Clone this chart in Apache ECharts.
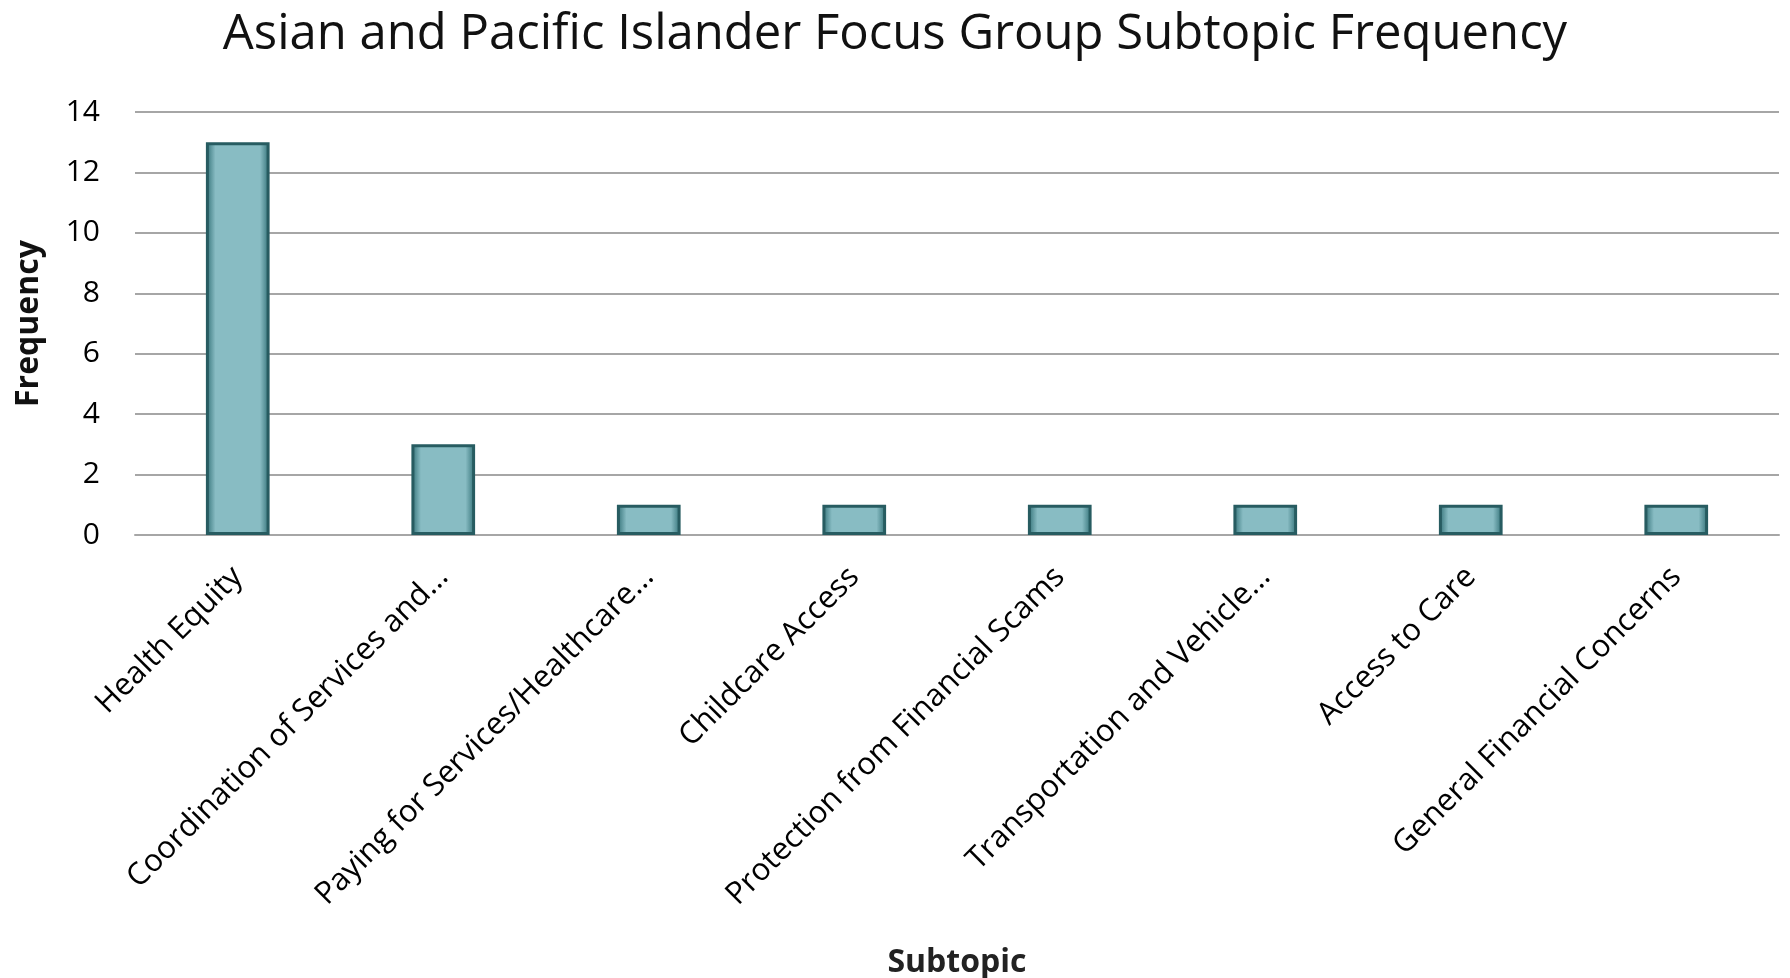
<!DOCTYPE html>
<html>
<head>
<meta charset="utf-8">
<script src="https://cdn.jsdelivr.net/npm/echarts@6/dist/echarts.min.js"></script>
<style>
  html, body { margin: 0; padding: 0; background: #fff; }
  #chart { width: 1790px; height: 978px; }
</style>
</head>
<body>
<div id="chart"></div>
<script>
const subtopics = [
  'Health Equity',
  'Coordination of Services and...',
  'Paying for Services/Healthcare...',
  'Childcare Access',
  'Protection from Financial Scams',
  'Transportation and Vehicle...',
  'Access to Care',
  'General Financial Concerns'
];
const frequency = [13, 3, 1, 1, 1, 1, 1, 1];
const yTicks = [0, 2, 4, 6, 8, 10, 12, 14];

const chart = echarts.init(document.getElementById('chart'));
const font = "'Open Sans', sans-serif";

chart.setOption({
  animation: false,
  title: {
    text: 'Asian and Pacific Islander Focus Group Subtopic Frequency',
    left: 'center',
    top: 6,
    textStyle: { fontFamily: font, fontSize: 49, fontWeight: 'normal', color: '#111' }
  },
  grid: { left: 135, right: 11, top: 112, bottom: 443, outerBoundsMode: 'none' },
  xAxis: {
    type: 'category',
    data: subtopics,
    name: 'Subtopic',
    nameLocation: 'middle',
    nameGap: 412,
    nameTextStyle: { fontFamily: font, fontSize: 32, fontWeight: 'bold', color: '#222' },
    axisLine: { lineStyle: { color: '#a6a6a6', width: 2 } },
    axisTick: { show: false },
    axisLabel: {
      rotate: 45,
      margin: 37,
      interval: 0,
      fontFamily: font,
      fontSize: 31,
      color: '#000'
    }
  },
  yAxis: {
    type: 'value',
    min: 0,
    max: yTicks[yTicks.length - 1],
    interval: 2,
    name: 'Frequency',
    nameLocation: 'middle',
    nameGap: 90,
    nameTextStyle: { fontFamily: font, fontSize: 32, fontWeight: 'bold', color: '#111' },
    axisLine: { show: false },
    axisTick: { show: false },
    axisLabel: { fontFamily: font, fontSize: 30, color: '#000', margin: 35 },
    splitLine: { lineStyle: { color: '#a6a6a6', width: 2 } }
  },
  series: [{
    type: 'bar',
    data: frequency,
    barWidth: '31%',
    itemStyle: {
      color: {
        type: 'linear', x: 0, y: 0, x2: 1, y2: 0,
        colorStops: [
          { offset: 0, color: '#2f6e74' },
          { offset: 0.15, color: '#88bcc3' },
          { offset: 0.85, color: '#88bcc3' },
          { offset: 1, color: '#2f6e74' }
        ]
      },
      borderColor: '#275c61',
      borderWidth: 3
    }
  }]
});
</script>
</body>
</html>
